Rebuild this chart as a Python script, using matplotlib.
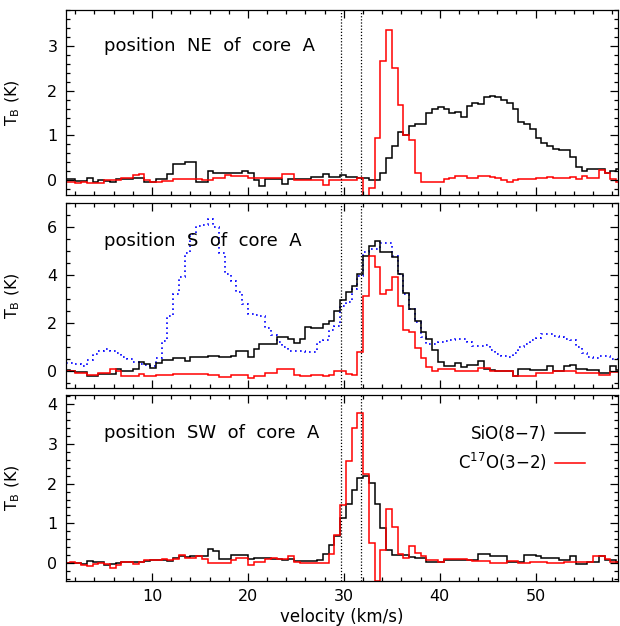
import numpy as np
import matplotlib
matplotlib.use('Agg')
import matplotlib.pyplot as plt
from matplotlib.ticker import MultipleLocator

# velocity channels (km/s): first channel edge and channel width
V_START = 0.8
V_WIDTH = 0.6
V_MARKERS = [29.7, 31.8]

# position NE of core A
NE_SIO = [0.02, 0.02, -0.01, -0.01, 0.04, -0.03, 0.0, -0.01, -0.03, 0.02,
          0.02, 0.03, 0.04, 0.04, -0.05, -0.05, 0.02, 0.02, 0.14, 0.36,
          0.36, 0.4, 0.4, -0.05, -0.05, 0.21, 0.17, 0.17, 0.15, 0.16,
          0.17, 0.2, 0.17, 0.0, -0.12, 0.02, 0.02, 0.02, -0.08, 0.02,
          0.02, 0.03, 0.03, 0.07, 0.08, 0.13, 0.08, 0.08, 0.11, 0.08,
          0.08, 0.05, 0.04, 0.0, 0.0, 0.15, 0.49, 0.77, 1.07, 1.01,
          1.21, 1.25, 1.25, 1.51, 1.6, 1.63, 1.6, 1.51, 1.53, 1.41,
          1.66, 1.72, 1.7, 1.86, 1.89, 1.86, 1.8, 1.72, 1.6, 1.29,
          1.26, 1.15, 0.94, 0.82, 0.76, 0.69, 0.68, 0.68, 0.51, 0.3,
          0.21, 0.24, 0.24, 0.26, 0.17, 0.21, 0.25]
NE_C17O = [-0.03, -0.05, -0.06, -0.03, -0.06, -0.06, -0.06, 0.0, 0.0, 0.0,
           0.04, 0.04, 0.11, 0.14, 0.0, -0.05, -0.05, -0.02, -0.02, 0.02,
           0.02, 0.02, 0.02, 0.02, 0.0, 0.0, 0.04, 0.04, 0.11, 0.09,
           0.09, 0.09, 0.04, 0.06, 0.06, 0.04, 0.04, 0.04, 0.14, 0.14,
           0.0, 0.0, 0.0, 0.0, 0.0, -0.1, 0.0, 0.0, 0.0, 0.0,
           0.0, 0.04, -0.45, -0.17, 0.94, 2.67, 3.35, 2.5, 1.68, 1.01,
           0.9, 0.17, -0.03, -0.05, -0.05, -0.03, 0.03, 0.06, 0.09, 0.09,
           0.06, 0.06, 0.09, 0.09, 0.07, 0.05, 0.0, -0.04, 0.0, 0.03,
           0.03, 0.02, 0.04, 0.05, 0.07, 0.05, 0.05, 0.06, 0.08, 0.03,
           0.1, 0.05, 0.05, 0.23, 0.15, 0.02, -0.05]

# position S of core A
S_SIO = [0.03, 0.0, -0.03, -0.03, -0.19, -0.19, -0.12, -0.12, -0.12, 0.1,
         0.02, 0.0, 0.07, 0.37, 0.28, 0.14, 0.33, 0.47, 0.47, 0.55,
         0.55, 0.44, 0.58, 0.58, 0.6, 0.65, 0.65, 0.58, 0.58, 0.65,
         0.86, 0.86, 0.58, 0.93, 1.14, 1.14, 1.14, 1.42, 1.42, 1.32,
         1.17, 1.36, 1.83, 1.8, 1.8, 1.95, 2.1, 2.52, 2.95, 3.29,
         3.53, 4.05, 4.81, 5.2, 5.4, 4.97, 4.97, 4.76, 4.05, 3.26,
         2.6, 2.07, 1.63, 1.33, 0.87, 0.39, 0.21, 0.21, 0.35, 0.18,
         0.25, 0.25, 0.42, 0.1, 0.04, 0.0, 0.0, 0.0, -0.2, 0.1,
         0.1, 0.04, 0.04, 0.04, 0.2, 0.0, 0.0, 0.2, 0.25, 0.1,
         0.1, 0.04, 0.04, -0.08, -0.08, 0.2, 0.04]
S_C17O = [0.0, 0.0, -0.07, -0.07, -0.14, -0.14, -0.07, -0.07, 0.07, 0.0,
          -0.21, -0.21, -0.21, -0.1, -0.21, -0.21, -0.14, -0.14, -0.14, -0.1,
          -0.1, -0.1, -0.1, -0.1, -0.1, -0.14, -0.14, -0.25, -0.25, -0.14,
          -0.14, -0.14, -0.28, -0.21, -0.21, -0.07, -0.07, 0.11, 0.11, 0.11,
          -0.14, -0.21, -0.21, -0.14, -0.14, -0.21, -0.14, 0.0, 0.0, -0.1,
          -0.14, 0.8, 3.15, 4.81, 4.35, 3.2, 3.37, 3.9, 2.7, 1.7,
          1.64, 0.95, 0.53, 0.18, 0.0, 0.07, 0.07, 0.07, 0.0, 0.0,
          0.0, 0.0, 0.14, 0.14, 0.0, 0.0, 0.0, 0.0, -0.2, -0.2,
          -0.2, -0.2, -0.07, -0.07, -0.07, 0.0, 0.0, 0.0, 0.0, -0.07,
          -0.07, -0.07, -0.07, -0.15, -0.15, -0.05, -0.05]
S_DOTTED = [0.35, 0.35, 0.3, 0.2, 0.45, 0.7, 0.85, 0.92, 0.85, 0.75,
            0.6, 0.5, 0.4, 0.3, 0.25, 0.2, 0.55, 1.25, 2.3, 3.2,
            3.9, 4.9, 5.7, 6.05, 6.1, 6.35, 6.0, 4.9, 4.05, 3.75,
            3.3, 2.8, 2.4, 2.35, 2.3, 1.8, 1.5, 1.2, 1.0, 0.85,
            0.85, 0.85, 0.8, 0.8, 1.2, 1.3, 1.7, 1.9, 2.7, 2.9,
            3.4, 3.95, 4.97, 5.1, 5.1, 5.33, 5.33, 4.8, 4.05, 3.22,
            2.6, 2.05, 1.43, 1.15, 1.15, 1.2, 1.25, 1.3, 1.33, 1.33,
            1.2, 1.05, 1.05, 1.1, 0.9, 0.7, 0.65, 0.6, 0.75, 1.0,
            1.15, 1.3, 1.4, 1.53, 1.53, 1.45, 1.43, 1.35, 1.3, 1.0,
            0.75, 0.6, 0.54, 0.63, 0.63, 0.5, 0.5]

# position SW of core A
SW_SIO = [0.0, 0.0, 0.0, -0.02, 0.05, 0.04, 0.02, -0.06, -0.02, 0.0,
          0.03, 0.03, 0.02, 0.04, 0.06, 0.08, 0.08, 0.08, 0.06, 0.13,
          0.17, 0.15, 0.17, 0.17, 0.19, 0.35, 0.3, 0.1, 0.1, 0.21,
          0.21, 0.2, 0.1, 0.13, 0.13, 0.12, 0.1, 0.1, 0.08, 0.1,
          0.05, 0.05, 0.05, 0.05, 0.08, 0.23, 0.46, 0.67, 1.13, 1.5,
          1.84, 2.14, 2.2, 2.01, 1.5, 0.88, 0.32, 0.2, 0.2, 0.2,
          0.15, 0.12, 0.12, 0.04, 0.04, 0.04, 0.08, 0.08, 0.08, 0.08,
          0.08, 0.08, 0.23, 0.23, 0.17, 0.17, 0.17, 0.04, 0.04, 0.04,
          0.2, 0.2, 0.17, 0.12, 0.12, 0.12, 0.08, 0.08, 0.18, -0.02,
          -0.02, 0.04, 0.04, 0.17, 0.08, 0.08, 0.04]
SW_C17O = [0.0, 0.02, 0.0, -0.05, -0.08, -0.02, 0.0, -0.02, -0.13, -0.05,
           0.04, 0.04, -0.02, 0.04, 0.08, 0.08, 0.08, 0.1, 0.08, 0.1,
           0.21, 0.13, 0.13, 0.18, 0.1, 0.01, 0.01, 0.01, 0.01, 0.08,
           0.12, 0.12, -0.05, 0.04, 0.04, 0.1, 0.14, 0.1, 0.1, 0.18,
           0.04, 0.0, 0.0, 0.0, 0.0, 0.0, 0.23, 0.71, 1.47, 2.56,
           3.4, 3.79, 2.25, 0.5, -0.45, 0.33, 1.36, 0.92, 0.23, 0.12,
           0.42, 0.25, 0.17, 0.07, 0.07, 0.02, 0.1, 0.1, 0.1, 0.1,
           0.08, 0.06, 0.05, 0.05, 0.01, 0.01, 0.01, 0.06, 0.06, 0.01,
           0.01, 0.04, 0.04, 0.04, 0.01, 0.01, 0.01, 0.04, 0.04, 0.04,
           0.04, 0.04, 0.17, 0.17, 0.1, 0.04, 0.04]

LABELS = ['position  NE  of  core  A', 'position  S  of  core  A', 'position  SW  of  core  A']
YLIMS = [(-0.33, 3.8), (-0.7, 7.0), (-0.45, 4.23)]
YMAJOR = [1, 2, 1]
YMINOR = [0.2, 0.5, 0.2]
LABEL_Y = [3.0, 5.4, 3.27]
XLIM = (1.0, 58.6)

SPECTRA = [(NE_SIO, NE_C17O, None), (S_SIO, S_C17O, S_DOTTED), (SW_SIO, SW_C17O, None)]

fig = plt.figure(figsize=(6.2, 6.26), dpi=100)
panel_boxes = [[0.106, 0.6885, 0.891, 0.2955],
               [0.106, 0.3802, 0.891, 0.2955],
               [0.106, 0.0719, 0.891, 0.297]]

for k, (sio, c17o, dotted) in enumerate(SPECTRA):
    ax = fig.add_axes(panel_boxes[k])
    edges = V_START + V_WIDTH * np.arange(len(sio) + 1)
    if dotted is not None:
        ax.stairs(dotted, edges, color='blue', lw=1.2, ls=(0, (1, 2)))
    ax.stairs(sio, edges, color='black', lw=1.1, label='SiO(8\u22127)')
    ax.stairs(c17o, edges, color='red', lw=1.1, label='C$^{17}$O(3\u22122)')
    for v in V_MARKERS:
        ax.axvline(v, color='black', lw=0.9, ls=(0, (1, 1.5)))

    ax.set_xlim(*XLIM)
    ax.set_ylim(*YLIMS[k])
    ax.xaxis.set_major_locator(MultipleLocator(10))
    ax.xaxis.set_minor_locator(MultipleLocator(2))
    ax.yaxis.set_major_locator(MultipleLocator(YMAJOR[k]))
    ax.yaxis.set_minor_locator(MultipleLocator(YMINOR[k]))
    ax.tick_params(which='both', direction='in', top=True, right=True, width=0.9)
    ax.tick_params(which='major', length=6, labelsize=11.5, pad=6)
    ax.tick_params(which='minor', length=3)
    for s in ax.spines.values():
        s.set_linewidth(0.9)

    ax.set_ylabel('T$_\\mathregular{B}$ (K)', fontsize=11.5)
    ax.yaxis.set_label_coords(-0.08, 0.5)
    ax.text(5.0, LABEL_Y[k], LABELS[k], fontsize=13, va='center', ha='left')

    if k < 2:
        ax.tick_params(labelbottom=False)
    else:
        ax.set_xlabel('velocity (km/s)', fontsize=12, labelpad=3)
        ax.legend(loc='upper right', bbox_to_anchor=(0.968, 0.92), frameon=False,
                  markerfirst=False, fontsize=12, handlelength=1.8,
                  handletextpad=0.5, labelspacing=0.45)

plt.savefig('out.png', dpi=100)
